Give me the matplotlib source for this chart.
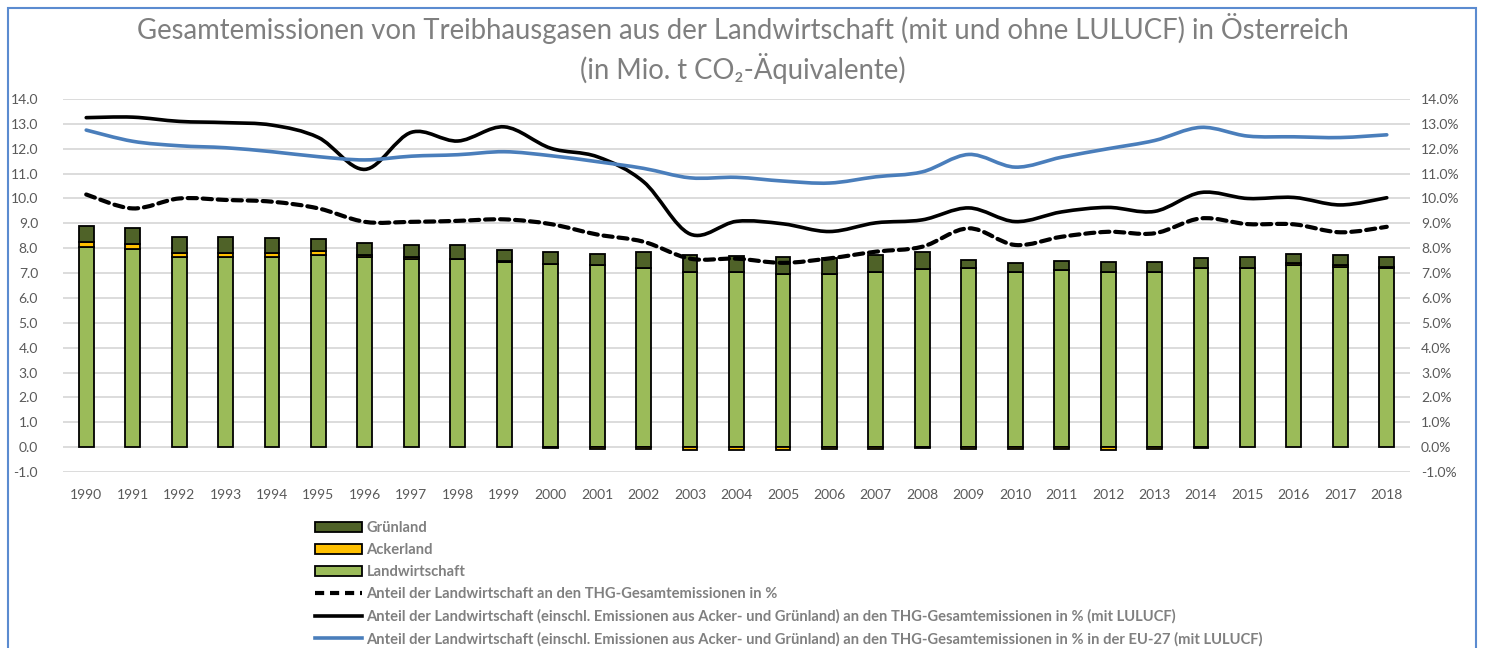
"""
Treibhausgase aus der Landwirtschaft in Österreich 1990-2018 (mit und ohne LULUCF).
Stacked bars (Mio. t CO2-Äq.) plus share lines on a second axis.
"""

import matplotlib
matplotlib.use("Agg")
import matplotlib.pyplot as plt
import matplotlib.patches as mpatches
from matplotlib.lines import Line2D
from matplotlib.path import Path
import numpy as np

YEARS = [str(y) for y in range(1990, 2019)]

# Mio. t CO2-Äquivalente
LANDWIRTSCHAFT = [8.05, 7.97, 7.66, 7.63, 7.63, 7.72, 7.63, 7.58, 7.55, 7.46,
                  7.35, 7.31, 7.19, 7.03, 7.03, 6.96, 6.96, 7.03, 7.16, 7.19,
                  7.03, 7.12, 7.05, 7.05, 7.21, 7.19, 7.33, 7.25, 7.19]
ACKERLAND = [0.20, 0.20, 0.16, 0.16, 0.16, 0.18, 0.08, 0.08, 0.03, 0.02,
             -0.03, -0.08, -0.08, -0.12, -0.12, -0.12, -0.07, -0.06, -0.03, -0.06,
             -0.06, -0.06, -0.10, -0.06, -0.04, 0.03, 0.06, 0.08, 0.06]
GRUENLAND = [0.65, 0.64, 0.64, 0.67, 0.64, 0.45, 0.51, 0.48, 0.53, 0.44,
             0.48, 0.45, 0.67, 0.69, 0.67, 0.70, 0.66, 0.68, 0.67, 0.35,
             0.38, 0.36, 0.40, 0.40, 0.38, 0.41, 0.37, 0.39, 0.38]

# Anteile in %
ANTEIL_OHNE = [10.16, 9.60, 10.00, 9.94, 9.87, 9.60, 9.06, 9.06, 9.10, 9.16,
               8.97, 8.55, 8.26, 7.58, 7.58, 7.41, 7.59, 7.86, 8.06, 8.80,
               8.13, 8.46, 8.66, 8.60, 9.20, 8.97, 8.96, 8.64, 8.86]
ANTEIL_MIT = [13.25, 13.27, 13.10, 13.05, 12.95, 12.45, 11.17, 12.66, 12.31, 12.88,
              12.02, 11.68, 10.67, 8.57, 9.08, 8.98, 8.67, 9.02, 9.14, 9.62,
              9.07, 9.46, 9.64, 9.48, 10.24, 10.00, 10.04, 9.74, 10.03]
ANTEIL_EU27 = [12.75, 12.30, 12.12, 12.04, 11.88, 11.68, 11.55, 11.70, 11.76, 11.88,
               11.72, 11.48, 11.21, 10.83, 10.85, 10.70, 10.62, 10.87, 11.07, 11.77,
               11.26, 11.66, 12.00, 12.33, 12.86, 12.51, 12.48, 12.45, 12.56]

C_LW = "#9BBB59"
C_ACKER = "#FFC000"
C_GRUEN = "#4F6228"
C_BLUE = "#4A7EBB"
C_TEXT = "#595959"
C_LEG = "#808080"


def smooth_path(x, y):
    """Excel-like smoothed line as cubic Bezier segments through the points."""
    pts = np.column_stack([x, y]).astype(float)
    n = len(pts)
    verts = [pts[0]]
    codes = [Path.MOVETO]
    for i in range(n - 1):
        p0 = pts[i - 1] if i > 0 else pts[i]
        p1, p2 = pts[i], pts[i + 1]
        p3 = pts[i + 2] if i + 2 < n else pts[i + 1]
        c1 = p1 + (p2 - p0) / 6.0
        c2 = p2 - (p3 - p1) / 6.0
        verts += [c1, c2, p2]
        codes += [Path.CURVE4] * 3
    return Path(verts, codes)


def main():
    plt.rcParams["font.family"] = ["Lato", "DejaVu Sans"]
    fig = plt.figure(figsize=(14.85, 6.48), dpi=100)
    ax = fig.add_axes([63 / 1485, 176 / 648, 1347 / 1485, 373 / 648])

    x = np.arange(len(YEARS))
    lw = np.array(LANDWIRTSCHAFT)
    ack = np.array(ACKERLAND)
    gr = np.array(GRUENLAND)
    ack_pos = np.where(ack > 0, ack, 0)
    ack_neg = np.where(ack < 0, ack, 0)

    width = 0.32
    bar_kw = dict(width=width, edgecolor="black", linewidth=1.3, zorder=3)
    ax.bar(x, lw, color=C_LW, **bar_kw)
    ax.bar(x, ack_pos, bottom=lw, color=C_ACKER, **bar_kw)
    ax.bar(x[ack < 0], ack_neg[ack < 0], color=C_ACKER, **bar_kw)
    ax.bar(x, gr, bottom=lw + ack_pos, color=C_GRUEN, **bar_kw)

    ax.set_xlim(-0.5, len(YEARS) - 0.5)
    ax.set_ylim(-1, 14)
    ax.set_yticks(np.arange(-1, 14.1, 1))
    ax.set_yticklabels([f"{v:.1f}" for v in np.arange(-1, 14.1, 1)])
    ax.set_xticks(x)
    ax.set_xticklabels(YEARS)
    ax.yaxis.grid(True, color="#D9D9D9", linewidth=1.3, zorder=0)
    ax.set_axisbelow(True)
    for s in ax.spines.values():
        s.set_visible(False)
    ax.tick_params(axis="both", length=0, labelsize=10, colors=C_TEXT)
    ax.tick_params(axis="y", pad=18)
    ax.tick_params(axis="x", pad=12)

    ax2 = ax.twinx()
    ax2.set_ylim(-1, 14)
    ax2.set_yticks(np.arange(-1, 14.1, 1))
    ax2.set_yticklabels([f"{v:.1f}%" for v in np.arange(-1, 14.1, 1)])
    for s in ax2.spines.values():
        s.set_visible(False)
    ax2.tick_params(axis="y", length=0, labelsize=10, colors=C_TEXT, pad=8)

    lines = [
        (ANTEIL_OHNE, "black", (0, (2.2, 1.4)), 3.0),
        (ANTEIL_MIT, "black", "-", 2.6),
        (ANTEIL_EU27, C_BLUE, "-", 2.6),
    ]
    for vals, col, ls, lwidth in lines:
        ax2.add_patch(mpatches.PathPatch(smooth_path(x, vals), fill=False,
                                         edgecolor=col, linestyle=ls,
                                         linewidth=lwidth, capstyle="round",
                                         zorder=4))

    title_kw = dict(ha="center", va="center", fontsize=19.8, color="#7F7F7F",
                    family=["Lato", "DejaVu Sans"])
    fig.text(0.5, 1 - 28 / 648, "Gesamtemissionen von Treibhausgasen aus der "
             "Landwirtschaft (mit und ohne LULUCF) in Österreich", **title_kw)
    fig.text(0.5, 1 - 69 / 648, "(in Mio. t CO₂-Äquivalente)", **title_kw)

    handles = [
        mpatches.Patch(facecolor=C_GRUEN, edgecolor="black", linewidth=1.3),
        mpatches.Patch(facecolor=C_ACKER, edgecolor="black", linewidth=1.3),
        mpatches.Patch(facecolor=C_LW, edgecolor="black", linewidth=1.3),
        Line2D([], [], color="black", linestyle=(0, (2.2, 1.4)), linewidth=3.0),
        Line2D([], [], color="black", linewidth=2.6),
        Line2D([], [], color=C_BLUE, linewidth=2.6),
    ]
    labels = [
        "Grünland",
        "Ackerland",
        "Landwirtschaft",
        "Anteil der Landwirtschaft an den THG-Gesamtemissionen in %",
        "Anteil der Landwirtschaft (einschl. Emissionen aus Acker- und Grünland) "
        "an den THG-Gesamtemissionen in % (mit LULUCF)",
        "Anteil der Landwirtschaft (einschl. Emissionen aus Acker- und Grünland) "
        "an den THG-Gesamtemissionen in % in der EU-27 (mit LULUCF)",
    ]
    leg = fig.legend(handles, labels, loc="upper left",
                     bbox_to_anchor=(315 / 1485, 1 - 521 / 648),
                     frameon=False, fontsize=10.6, handlelength=3.2,
                     handleheight=0.7, handletextpad=0.3, labelspacing=0.55,
                     borderaxespad=0, borderpad=0)
    for t in leg.get_texts():
        t.set_color(C_LEG)
        t.set_fontweight("bold")

    border = mpatches.Rectangle((8 / 1485, -0.1), 1468 / 1485, 1.1 - 8 / 648,
                                transform=fig.transFigure, fill=False,
                                edgecolor="#5B8BD0", linewidth=1.5)
    fig.patches.append(border)

    fig.savefig("out.png", dpi=100)
    plt.close(fig)


if __name__ == "__main__":
    main()
